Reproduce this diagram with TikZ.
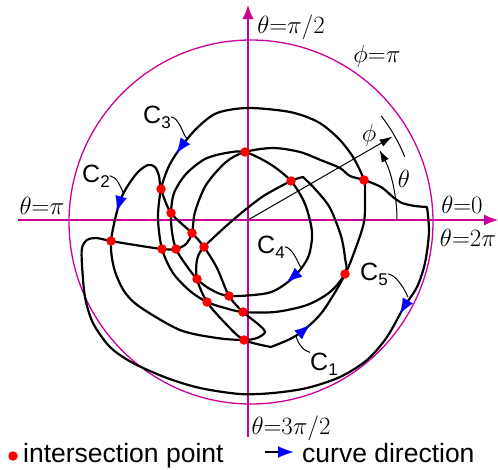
\documentclass[tikz,border=0pt]{standalone}
\usepackage{fontspec}
\setsansfont{Liberation Sans}
\usepackage{tikz}
\usetikzlibrary{arrows.meta}
\definecolor{axmag}{RGB}{204,0,153}
\newcommand\sub[1]{\raisebox{-5pt}{\fontsize{17}{17}\selectfont #1}}

\begin{document}
\begin{tikzpicture}[
        x=1pt, y=-1pt,
        cline/.style={line width=2.2pt, line join=round},
        axline/.style={axmag, line width=1.3pt},
        dot/.style={circle, fill=red, inner sep=0pt, minimum size=9.5pt},
        cdir/.style={blue, line width=0.1pt, -{Latex[length=15pt, width=11.5pt]}},
        ang/.style={line width=1pt},
        lead/.style={line width=1pt},
        lbl/.style={font=\sffamily\fontsize{25}{25}\selectfont, inner sep=0pt, anchor=base west},
        ttl/.style={font=\fontsize{24.88}{25}\selectfont, inner sep=0pt, anchor=base},
        lgd/.style={font=\sffamily\fontsize{26.5}{26.5}\selectfont, inner sep=0pt, anchor=base west}
    ]
    \useasboundingbox (0,0) rectangle (498,469);

    \coordinate (o) at (248,220);
    \coordinate (i1) at (245,152);
    \coordinate (i2) at (161,189);
    \coordinate (i3) at (171,213);
    \coordinate (i4) at (192,233);
    \coordinate (i5) at (204,247);
    \coordinate (i6) at (162,249);
    \coordinate (i7) at (176,249);
    \coordinate (i8) at (197,279);
    \coordinate (i9) at (229,296);
    \coordinate (i10) at (207,302);
    \coordinate (i11) at (243,312);
    \coordinate (i12) at (244,340);
    \coordinate (i13) at (291,181);
    \coordinate (i14) at (364,180);
    \coordinate (i15) at (345,274);
    \coordinate (i16) at (111,241);

    % axes and boundary phi = pi
    \draw[axline] (251,222) circle[radius=182pt];
    \draw[axline, -{Latex[length=14pt, width=11pt]}] (248,437) -- (248,5);
    \draw[axline, -{Latex[length=14pt, width=11pt]}] (18,220) -- (498,220);

    % curves
    \draw[cline] plot[smooth] coordinates {(303,177) (i13) (262,197) (233,220) (i5) (197,260) (i8) (i10) (226,324) (i12) (271,347)}
        -- plot[smooth] coordinates {(271,347) (290,339) (304,330) (323,311) (i15) (345,258) (341,236) (330,208) (316,190) (303,177)} -- cycle;
    \draw[cline] plot[smooth cycle] coordinates {(i2) (159,176) (155,167) (148,165) (138,172) (127,187) (119,204) (i16) (114,268) (124,291) (140,307) (180,330) (217,338) (i12) (257,338) (265,332) (258,324) (i11) (i9) (217,268) (i5) (i4) (i3)};
    \draw[cline] plot[smooth cycle] coordinates {(248,108) (217,113) (197,128) (181,147) (169,166) (i2) (158,218) (i6) (173,273) (190,291) (i10) (225,308) (i11) (275,312) (307,305) (330,292) (i15) (355,250) (364,222) (365,195) (i14) (353,157) (338,138) (318,122) (290,112)};
    \draw[cline] plot[smooth cycle] coordinates {(i1) (270,164) (i13) (305,204) (312,232) (309,255) (300,270) (288,282) (268,293) (i9) (210,289) (i8) (186,265) (i7) (172,232) (i3) (174,193) (186,174) (205,159) (226,153)};
    \draw[cline] plot[smooth] coordinates {(427,207) (429,232) (425,263) (417,287) (404,307) (387,337) (367,360) (340,377) (307,388) (273,393) (240,394) (200,388) (167,378) (133,363) (110,347) (93,323) (85,297) (82,265) (82,248) (87,240) (96,238) (i16) (135,245) (i6) (i7) (186,244) (i4) (195,212) (206,185) (226,162) (i1) (273,148) (300,152) (323,161) (340,168) (350,176) (i14) (381,187) (393,197) (402,203) (415,206) (427,207)} -- cycle;

    % angles
    \draw[ang, -{Latex[length=13pt, width=8pt]}] (o) -- ([shift={(30:167pt)}]o);
    \draw[ang] ([shift={(22:169pt)}]o) arc[start angle=22, end angle=38, radius=169pt];
    \draw[ang, -{Latex[length=12pt, width=8pt]}] ([shift={(0:149pt)}]o) arc[start angle=0, end angle=28, radius=149pt];
    \node[ttl] (phi) at (369,141) {$\phi$};
    \node[ttl] (th) at (404,187) {$\theta$};

    \foreach \k in {1,...,16}
        \node[dot] (d\k) at (i\k) {};

    % curve directions
    \draw[cdir] (185.4,140.9) -- (176.6,153.1);
    \draw[cdir] (121.1,196.8) -- (116.9,211.2);
    \draw[cdir] (300,271) -- (287,282);
    \draw[cdir] (407.8,300.5) -- (400.2,313.5);
    \draw[cdir] (298.3,334.8) -- (309.7,325.2);

    % curve labels
    \node[lbl] (lc1) at (310,370) {C\sub{1}};
    \node[lbl] (lc2) at (82,182) {C\sub{2}};
    \node[lbl] (lc3) at (143,123) {C\sub{3}};
    \node[lbl] (lc4) at (257,253) {C\sub{4}};
    \node[lbl] (lc5) at (360,280) {C\sub{5}};
    \draw[lead] (lc1.north west) .. controls +(-6,-1) and +(2,8) .. (296,336);
    \draw[lead] (lc2.east) .. controls +(7,1) and +(-4,-8) .. (124,194);
    \draw[lead] (lc3.east) .. controls +(8,1) and +(-5,-7) .. (187,139);
    \draw[lead] (lc4.east) .. controls +(7,1) and +(-4,-8) .. (301,268);
    \draw[lead] (lc5.east) .. controls +(8,1) and +(-4,-9) .. (408,297);

    % axis labels
    \node[ttl] (t90) at (291,33) {$\theta{=}\pi/2$};
    \node[ttl] (pb) at (377,62) {$\phi{=}\pi$};
    \node[ttl] (t180) at (42,214) {$\theta{=}\pi$};
    \node[ttl] (t0) at (462,213) {$\theta{=}0$};
    \node[ttl] (t360) at (468,246) {$\theta{=}2\pi$};
    \node[ttl] (t270) at (291,434) {$\theta{=}3\pi/2$};

    % legend
    \node[dot] (lgdot) at (13,456) {};
    \node[lgd] (lgt1) at (23,462) {intersection point};
    \draw[cline] (265,452) -- (281,452);
    \draw[cdir] (278,452) -- (293,452);
    \node[lgd] (lgt2) at (302,462) {curve direction};
\end{tikzpicture}
\end{document}
